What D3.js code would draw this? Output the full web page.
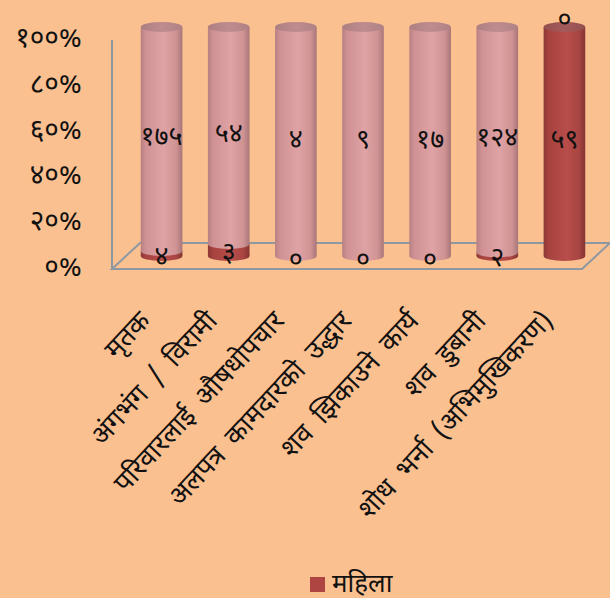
<!DOCTYPE html>
<html><head><meta charset="utf-8">
<script src="https://cdn.jsdelivr.net/npm/d3@7"></script>
<style>
html,body{margin:0;padding:0;background:#FAC090;}
svg{display:block;}
text{font-family:"Noto Sans Devanagari","Noto Sans","Lohit Devanagari","Mukta",sans-serif;fill:#111;}
</style></head>
<body>
<svg id="chart" width="610" height="598"></svg>
<script>
const categories = ["मृतक","अंगभंग / विरामी","परिवारलाई औषधोपचार","अलपत्र कामदारको उद्धार","शव झिकाउने कार्य","शव डुबानी","शोध भर्ना (अभिमुखिकरण)"];
const womenValues = [4, 3, 0, 0, 0, 2, 59];
const otherValues = [175, 54, 4, 9, 17, 124, 0];
const womenLabels = ["४","३","०","०","०","२","५९"];
const otherLabels = ["१७५","५४","४","९","१७","१२४","०"];
const tickValues = [0, 0.2, 0.4, 0.6, 0.8, 1];
const tickLabels = ["०%","२०%","४०%","६०%","८०%","१००%"];
const legendLabel = "महिला";

const svg = d3.select("#chart");
const defs = svg.append("defs");
function grad(id, stops){
  const g = defs.append("linearGradient").attr("id", id).attr("x1","0").attr("x2","1").attr("y1","0").attr("y2","0");
  stops.forEach(s => g.append("stop").attr("offset", s[0]).attr("stop-color", s[1]));
}
grad("gPink", [[0,"#B78083"],[0.12,"#CF9193"],[0.55,"#E0A3A5"],[0.85,"#D09394"],[1,"#A87678"]]);
grad("gRed", [[0,"#8C3936"],[0.12,"#A6423F"],[0.55,"#B84D4A"],[0.85,"#A84542"],[1,"#843431"]]);
grad("gPinkTop", [[0,"#AD7F82"],[0.5,"#BE8C8E"],[1,"#B08285"]]);
grad("gRedTop", [[0,"#93504F"],[0.5,"#A45A5A"],[1,"#94504F"]]);

const depthX = 28, depthY = -26;
const yFront = d3.scaleLinear().domain([0,1]).range([269, 40]);
const yCyl = v => yFront(v) + depthY/2;
const x = d3.scaleBand().domain(categories).range([112 + depthX/2 + 2, 582 + depthX/2 + 2]).paddingInner(0.38).paddingOuter(0.19);
const rx = x.bandwidth()/2, ry = 5;
const axisColor = "#8E98A0";

// floor
const floor = [[112,yFront(0)],[582,yFront(0)],[582+depthX,yFront(0)+depthY],[112+depthX,yFront(0)+depthY]];
svg.append("path").attr("d", "M"+floor.map(p=>p.join(",")).join("L")+"Z")
  .attr("fill","none").attr("stroke",axisColor).attr("stroke-width",2);
// y axis line
svg.append("line").attr("x1",112).attr("x2",112).attr("y1",yFront(1)).attr("y2",yFront(0))
  .attr("stroke",axisColor).attr("stroke-width",2);
// tick labels
svg.append("g").selectAll("text").data(tickValues).join("text")
  .attr("x", 82).attr("y", d => yFront(d)).attr("text-anchor","end")
  .attr("dominant-baseline","central").style("font-size","28px")
  .text((d,i) => tickLabels[i]);

// cylinders
const data = categories.map((c,i) => {
  const tot = womenValues[i] + otherValues[i];
  return {c, i, w: womenValues[i]/tot, o: otherValues[i]/tot};
});
const gC = svg.append("g");
data.forEach(d => {
  const cx = x(d.c) + rx;
  const segs = [
    {v0:0, v1:d.w, fill:"url(#gRed)", top:"url(#gRedTop)", val:womenValues[d.i]},
    {v0:d.w, v1:d.w+d.o, fill:"url(#gPink)", top:"url(#gPinkTop)", val:otherValues[d.i]}
  ].filter(s => s.val > 0);
  segs.forEach(s => {
    const yb = yCyl(s.v0), yt = yCyl(s.v1);
    gC.append("rect").attr("x", cx-rx).attr("y", yt).attr("width", 2*rx).attr("height", yb-yt).attr("fill", s.fill);
    gC.append("ellipse").attr("cx", cx).attr("cy", yb).attr("rx", rx).attr("ry", ry).attr("fill", s.fill);
  });
  const last = segs[segs.length-1];
  gC.append("ellipse").attr("cx", cx).attr("cy", yCyl(last.v1)).attr("rx", rx).attr("ry", ry).attr("fill", last.top);
});

// value labels
const gL = svg.append("g").style("font-size","27px");
data.forEach(d => {
  const cx = x(d.c) + rx;
  let yw = (yCyl(0) + yCyl(d.w))/2 + (d.w < 0.1 ? ry : 0);
  gL.append("text").attr("x", cx).attr("y", yw).attr("text-anchor","middle").attr("dominant-baseline","central").text(womenLabels[d.i]);
  let yo = (yCyl(d.w) + yCyl(d.w + d.o))/2;
  if (d.o === 0) yo = yCyl(1) - 6;
  gL.append("text").attr("x", cx).attr("y", yo).attr("text-anchor","middle").attr("dominant-baseline","central").text(otherLabels[d.i]);
});

// category labels
svg.append("g").selectAll("text").data(categories).join("text")
  .attr("transform", d => `translate(${x(d)+rx-10},${322}) rotate(-47)`)
  .attr("text-anchor","end").style("font-size","27px").style("word-spacing","6px")
  .text(d => d);

// legend
svg.append("rect").attr("x",310).attr("y",577).attr("width",15).attr("height",15).attr("fill","#AE4542");
svg.append("text").attr("x",332).attr("y",592).style("font-size","26px").text(legendLabel);
</script>
</body></html>
